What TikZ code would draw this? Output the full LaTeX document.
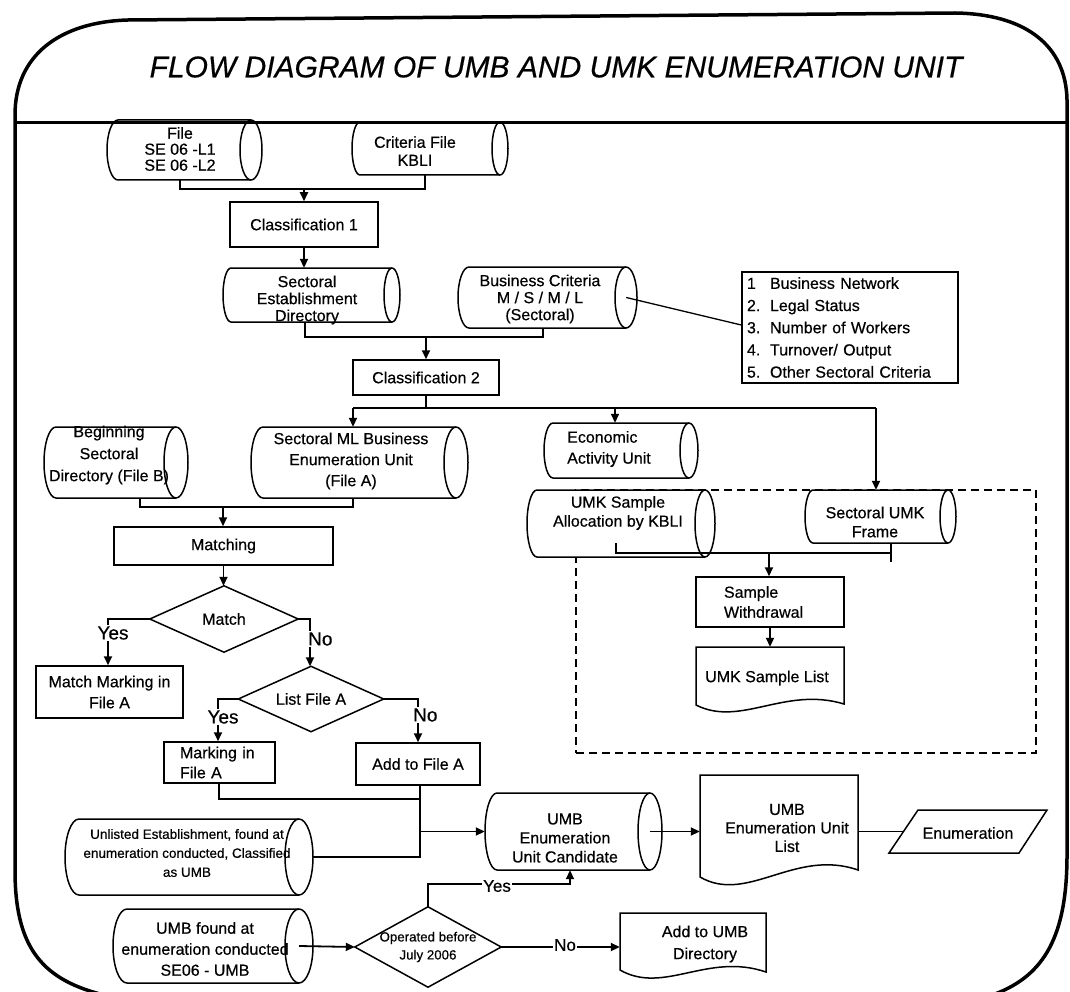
\documentclass[tikz,border=0pt]{standalone}
\usepackage{fontspec}
\setmainfont{Liberation Sans}[FakeBold=0.5]
\usetikzlibrary{arrows.meta,calc}
\pgfdeclarelayer{bgA}\pgfdeclarelayer{bgB}\pgfsetlayers{bgA,bgB,main}
\newcommand\fs[2]{\fontsize{#1}{#2}\selectfont}
\tikzset{
 every node/.style={inner sep=0pt, font=\fs{16}{19}},
 sh/.style={line width=1.5pt},
 rbox/.style={draw, line width=1.5pt, align=center},
 con/.style={line width=1.8pt},
 arr/.style={con, -{Triangle[length=9pt,width=8pt]}},
 lab/.style={font=\fs{19}{22}, fill=white, inner sep=1pt},
 labs/.style={font=\fs{17}{20}, fill=white, inner sep=1pt},
 dbox/.style={draw, line width=1.8pt, dash pattern=on 8pt off 5pt},
 txt/.style={align=center},
}
% name, x1, y1, x2, y2, a
\newcommand\cylshape[6]{%
 \pgfmathsetmacro\cylry{(#5-#3)/2}%
 \pgfmathsetmacro\cylcy{(#5+#3)/2}%
 \pgfmathsetmacro\cylcx{(#4+#2)/2}%
 \pgfmathsetmacro\cylw{#4-#2}%
 \pgfmathsetmacro\cylh{#5-#3}%
 \begin{pgfonlayer}{bgB}
 \draw[sh, fill=white] (#2+#6,#3) -- (#4-#6,#3) arc[start angle=90,end angle=-90,x radius=#6pt,y radius=\cylry pt] -- (#2+#6,#5) arc[start angle=270,end angle=90,x radius=#6pt,y radius=\cylry pt] -- cycle;
 \draw[sh] (#4-#6,#3) arc[start angle=90,end angle=270,x radius=#6pt,y radius=\cylry pt];
 \end{pgfonlayer}
 \node[minimum width=\cylw pt, minimum height=\cylh pt] (#1) at (\cylcx,\cylcy) {};
}
% name, x1, y1, x2, yL, yR, d
\newcommand\docshape[7]{%
 \pgfmathsetmacro\docw{#4-#2}%
 \pgfmathsetmacro\doccx{(#4+#2)/2}%
 \pgfmathsetmacro\doccy{(#5+#3)/2}%
 \pgfmathsetmacro\doch{#5-#3}%
 \draw[sh, fill=white] (#2,#5) -- (#2,#3) -- (#4,#3) -- (#4,#6) .. controls (#2+0.6*\docw,#6-2*#7) and (#2+0.3*\docw,#5+2.5*#7) .. (#2,#5) -- cycle;
 \node[minimum width=\docw pt, minimum height=\doch pt] (#1) at (\doccx,\doccy) {};
}
\newcommand\diamondline[1]{\draw[sh] (#1.west) -- (#1.north) -- (#1.east) -- (#1.south) -- cycle;}
\begin{document}
\begin{tikzpicture}[x=1pt,y=-1pt]
\useasboundingbox (0,0) rectangle (1070,992);
% frame
\draw[line width=3.5pt, line cap=round] (100,994) .. controls (40,978) and (15,945) .. (15,870) -- (15,115) .. controls (15,55) and (60,22) .. (128,20) -- (955,13) .. controls (1025,14) and (1066,45) .. (1067,100) -- (1067,855) .. controls (1067,935) and (1045,975) .. (995,994);
\draw[line width=3pt] (15,123) -- (1067,123);
\node[font=\fs{30}{30}\itshape] (title) at (556,67) {FLOW DIAGRAM OF UMB AND UMK ENUMERATION UNIT};

% dashed UMK box
\begin{pgfonlayer}{bgA}
\node[dbox, minimum width=460pt, minimum height=263pt] (umkbox) at (806,621.5) {};
\end{pgfonlayer}

% cylinders
\cylshape{fileL}{107}{120}{262}{180}{11}
\node[txt, font=\fs{16}{16}] (fileLt) at (180,149) {File\\SE 06 -L1\\SE 06 -L2};
\cylshape{critF}{352}{122}{508}{175}{8}
\node[txt, font=\fs{16}{18}] (critFt) at (415,151) {Criteria File\\KBLI};
\cylshape{sed}{223}{268}{400}{322}{8}
\node[txt, font=\fs{16}{17}] (sedt) at (307,300) {Sectoral\\Establishment\\Directory};
\cylshape{bc}{458}{267}{637}{328}{11}
\node[txt, font=\fs{16}{17}] (bct) at (540,299) {Business Criteria\\M / S / M / L\\(Sectoral)};
\cylshape{fileB}{44}{427}{188}{498}{12}
\node[txt, font=\fs{16}{22}] (fileBt) at (109,455) {Beginning\\Sectoral\\Directory (File B)};
\cylshape{sml}{251}{427}{468}{498}{12}
\node[txt, font=\fs{16}{21}] (smlt) at (351,461) {Sectoral ML Business\\Enumeration Unit\\(File A)};
\cylshape{eau}{544}{423}{698}{478}{9}
\node[align=left, anchor=west, font=\fs{16}{21}] (eaut) at (567,449) {Economic\\Activity Unit};
\cylshape{usa}{527}{490}{715}{557}{10}
\node[txt, font=\fs{16}{19}] (usat) at (618,513) {UMK Sample\\Allocation by KBLI};
\cylshape{suf}{805}{490}{956}{543}{8}
\node[txt, font=\fs{16}{19}] (suft) at (875,522) {Sectoral UMK\\Frame};
\cylshape{unl}{65}{819}{313}{895}{14}
\node[txt, font=\fs{13.5}{19}] (unlt) at (187,853) {Unlisted Establishment, found at\\enumeration conducted, Classified\\as UMB};
\cylshape{umbf}{113}{909}{313}{983}{14}
\node[txt, font=\fs{16}{21}] (umbft) at (205,949) {UMB found at\\enumeration conducted\\SE06 - UMB};
\cylshape{cand}{485}{793}{662}{870}{12}
\node[txt, font=\fs{16}{19}] (candt) at (565,838) {UMB\\Enumeration\\Unit Candidate};

% rectangles
\node[rbox, minimum width=148pt, minimum height=45pt] (class1) at (304,224.5) {Classification 1};
\node[rbox, minimum width=146pt, minimum height=35pt] (class2) at (426,377.5) {Classification 2};
\node[rbox, minimum width=216pt, minimum height=111pt, text width=206pt, inner xsep=5pt, align=left, font=\fs{16}{22.2}] (critlist) at (850,327.5)
 {\makebox[23pt][l]{1}Business Network\\\makebox[23pt][l]{2.}Legal Status\\\makebox[23pt][l]{3.}Number of Workers\\\makebox[23pt][l]{4.}Turnover/ Output\\\makebox[23pt][l]{5.}Other Sectoral Criteria};
\node[rbox, minimum width=219pt, minimum height=38pt] (matching) at (223.5,546) {Matching};
\node[rbox, minimum width=147pt, minimum height=52pt, font=\fs{16}{21}] (mmark) at (109.5,692) {Match Marking in\\File A};
\node[rbox, minimum width=111pt, minimum height=41pt, text width=79pt, inner xsep=16pt, align=left, font=\fs{16}{20}] (mark) at (219.5,762.5) {Marking in\\File A};
\node[rbox, minimum width=124pt, minimum height=42pt] (add) at (418,764) {Add to File A};
\node[rbox, minimum width=148pt, minimum height=50pt, text width=92pt, inner xsep=28pt, align=left, font=\fs{16}{20}] (sw) at (770,602) {Sample\\Withdrawal};

% documents
\docshape{usl}{696}{647}{844}{705}{704}{9}
\node[txt] (uslt) at (767,678) {UMK Sample List};
\docshape{ulist}{700}{775}{858}{877}{870}{11}
\node[txt, font=\fs{16}{18.5}] (ulistt) at (787,828) {UMB\\Enumeration Unit\\List};
\docshape{addumb}{620}{913}{766}{970}{972}{10}
\node[txt, font=\fs{16}{22}] (addumbt) at (705,944) {Add to UMB\\Directory};

% parallelogram
\draw[sh] (889,853) -- (918,810) -- (1047,810) -- (1019,853) -- cycle;
\node (enum) at (968,833) {Enumeration};
\coordinate (enumL) at (903,831.5);

% diamonds
\node[minimum width=148pt, minimum height=66pt] (match) at (224,619) {Match};
\diamondline{match}
\node[minimum width=145pt, minimum height=65pt] (listA) at (311,699) {List File A};
\diamondline{listA}
\node[minimum width=146pt, minimum height=80pt, align=center, font=\fs{13.3}{18}] (oper) at (428,947) {Operated before\\July 2006};
\diamondline{oper}

% connectors
\coordinate (j1a) at (180,189); \coordinate (j1b) at (425,189);
\draw[con] (j1a |- fileL.south) -- (j1a) -- (j1b) -- (j1b |- critF.south);
\draw[arr] (class1.north |- j1a) -- (class1.north);
\draw[arr] (class1.south) -- (class1.south |- sed.north);
\coordinate (j3a) at (305,337); \coordinate (j3b) at (543,337);
\draw[con] (j3a |- sed.south) -- (j3a) -- (j3b) -- (j3b |- bc.south);
\draw[arr] (class2.north |- j3a) -- (class2.north);
\draw[line width=1.3pt] ($(bc.east)+(-11,0)$) -- ($(critlist.west)+(0,-2.5)$);
\coordinate (j5L) at (353,408); \coordinate (j5R) at (876,408); \coordinate (j5m) at (615,408);
\draw[con] (class2.south) -- (class2.south |- j5L);
\draw[con] (j5L) -- (j5R);
\draw[arr] (j5L) -- (j5L |- sml.north);
\draw[arr] (j5m) -- (j5m |- eau.north);
\draw[arr] (j5R) -- (j5R |- suf.north);
\coordinate (j6a) at (140,507); \coordinate (j6b) at (353,507); \coordinate (j6m) at (223,507);
\draw[con] (j6a |- fileB.south) -- (j6a) -- (j6b) -- (j6b |- sml.south);
\draw[arr] (j6m) -- (j6m |- matching.north);
\draw[arr] (matching.south) -- (matching.south |- match.north);
\coordinate (yes1) at (108,619);
\draw[arr] (match.west) -- (yes1) -- (yes1 |- mmark.north);
\node[lab] (yesA) at (113,633) {Yes};
\coordinate (no1) at (310,619);
\draw[arr] (match.east) -- (no1) -- (no1 |- listA.north);
\node[lab, anchor=west] (noA) at (307,639) {No};
\coordinate (yes2) at (218,699);
\draw[arr] (listA.west) -- (yes2) -- (yes2 |- mark.north);
\node[lab] (yesB) at (223,717) {Yes};
\coordinate (no2) at (418,699);
\draw[arr] (listA.east) -- (no2) -- (no2 |- add.north);
\node[lab, anchor=west] (noB) at (412,715) {No};
\coordinate (j12a) at (219,799); \coordinate (j12b) at (420,799); \coordinate (j12c) at (420,857); \coordinate (j12d) at (420,831.5);
\draw[con] (j12a |- mark.south) -- (j12a) -- (j12b);
\draw[con] (j12b |- add.south) -- (j12c) -- (unl.east);
\draw[arr] (j12d) -- (cand.west);
\draw[arr] ($(cand.east)+(-12,0)$) -- (ulist.west |- cand.east);
\draw[con] (ulist.east |- cand.east) -- (enumL);
\draw[arr] ($(umbf.east)+(-14,0)$) -- (oper.west);
\coordinate (j16a) at (428,884); \coordinate (j16b) at (570,884);
\draw[arr] (oper.north) -- (j16a) -- (j16b) -- (j16b |- cand.south);
\node[labs] (yesC) at (497,886) {Yes};
\draw[arr] (oper.east) -- (addumb.west |- oper.east);
\node[labs] (noC) at (565,945) {No};
\coordinate (j18s) at (616,543); \coordinate (j18a) at (616,553); \coordinate (j18b) at (891,553); \coordinate (j18m) at (769,553); \coordinate (j18c) at (891,562);
\draw[con] (j18s) -- (j18a) -- (j18b);
\draw[con] (j18b |- suf.south) -- (j18c);
\draw[arr] (j18m) -- (j18m |- sw.north);
\draw[arr] (sw.south) -- (usl.north);
\end{tikzpicture}
\end{document}
